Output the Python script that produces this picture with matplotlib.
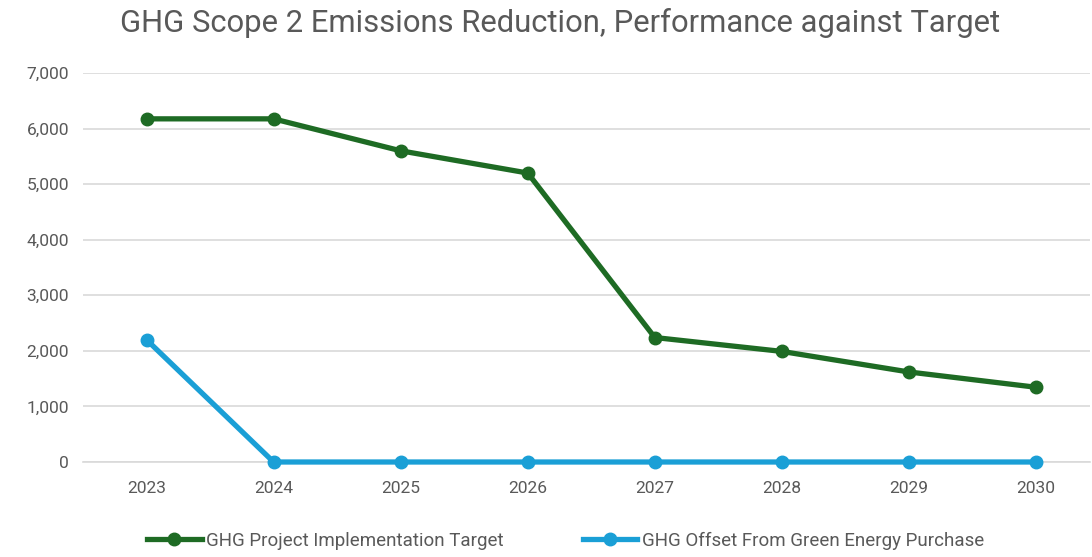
import matplotlib.pyplot as plt

years = ['2023', '2024', '2025', '2026', '2027', '2028', '2029', '2030']
target = [6175, 6175, 5600, 5200, 2240, 1990, 1620, 1345]
offset = [2200, 0, 0, 0, 0, 0, 0, 0]
yticks = [0, 1000, 2000, 3000, 4000, 5000, 6000, 7000]

plt.rcParams['font.family'] = ['Roboto', 'DejaVu Sans']
gray = '#595959'

fig = plt.figure(figsize=(10.92, 5.57), dpi=100)
ax = fig.add_axes([83 / 1092, 1 - 462 / 557, (1090 - 83) / 1092, (462 - 73) / 557])

x = range(len(years))
ax.plot(x, target, color='#1E6B24', lw=3.8, marker='o', ms=9,
        label='GHG Project Implementation Target', zorder=3, clip_on=False)
ax.plot(x, offset, color='#1A9FD6', lw=3.8, marker='o', ms=9,
        label='GHG Offset From Green Energy Purchase', zorder=3, clip_on=False)

ax.set_xlim(-0.5, 7.425)
ax.set_ylim(0, 7000)
ax.set_xticks(list(x))
ax.set_xticklabels(years)
ax.set_yticks(yticks)
ax.set_yticklabels([f'{v:,}' for v in yticks])
ax.tick_params(colors=gray, labelsize=12.5, length=0, pad=10)
ax.tick_params(axis='x', pad=14)
ax.grid(axis='y', color='#D9D9D9', lw=1.2)
ax.set_axisbelow(True)
for s in ['top', 'right', 'left']:
    ax.spines[s].set_visible(False)
ax.spines['bottom'].set_color('#D9D9D9')
ax.spines['bottom'].set_linewidth(1.2)

fig.suptitle('GHG Scope 2 Emissions Reduction, Performance against Target',
             x=0.513, y=0.985, fontsize=22.3, color=gray)
fig.legend(loc='center', bbox_to_anchor=(0.518, 1 - 541 / 557), ncol=2,
           frameon=False, fontsize=13.5, labelcolor=gray, handlelength=2.9,
           handletextpad=0.25, columnspacing=4.2)

fig.savefig('out.png', dpi=100)
